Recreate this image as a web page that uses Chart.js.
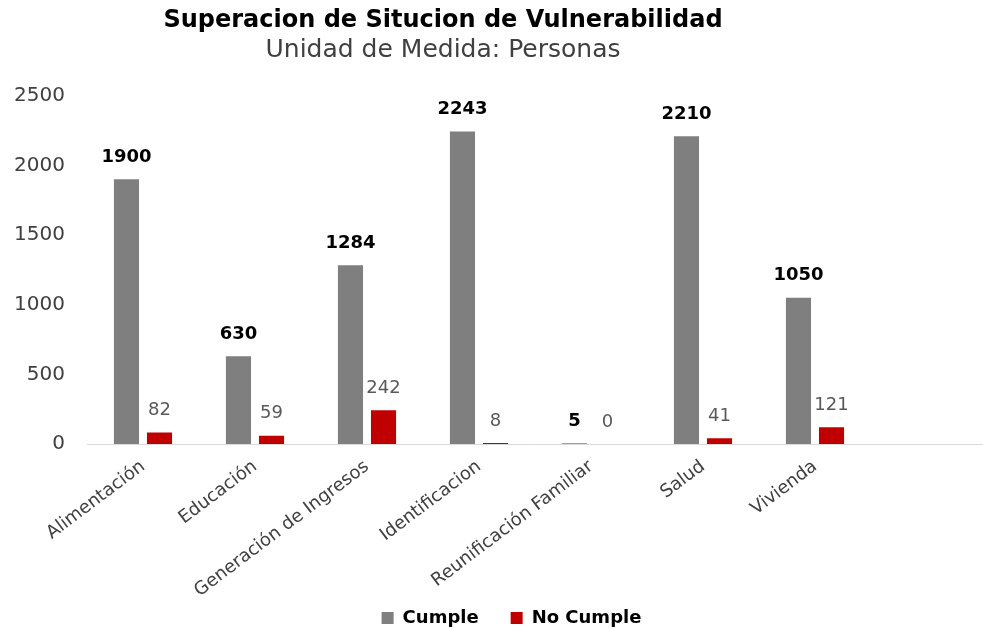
<!DOCTYPE html>
<html>
<head>
<meta charset="utf-8">
<script src="https://cdn.jsdelivr.net/npm/chart.js@4/dist/chart.umd.min.js"></script>
<style>
  html, body { margin: 0; padding: 0; background: #ffffff; }
  #wrap { position: relative; width: 983px; height: 629px; }
</style>
</head>
<body>
<div id="wrap"><canvas id="c" width="983" height="629"></canvas></div>
<script>
const categories = ["Alimentación", "Educación", "Generación de Ingresos", "Identificacion", "Reunificación Familiar", "Salud", "Vivienda", ""];
const cumple = [1900, 630, 1284, 2243, 5, 2210, 1050, null];
const noCumple = [82, 59, 242, 8, 0, 41, 121, null];
const yTicks = [0, 500, 1000, 1500, 2000, 2500];
const titleText = "Superacion de Situcion de Vulnerabilidad";
const subtitleText = "Unidad de Medida: Personas";

const FONT = "'DejaVu Sans', sans-serif";

const shiftPlugin = {
  id: 'shiftBoxes',
  afterLayout(chart) {
    chart.boxes.forEach(b => {
      if (b.options && b.options.text !== undefined && b.position === 'top') {
        b.left = 0; b.right = 886; b.width = 886;
      }
    });
    if (chart.legend) {
      chart.legend.left += 14; chart.legend.right += 14;
      chart.legend.top += 8; chart.legend.bottom += 8;
    }
    if (chart.scales.x) { chart.scales.x.bottom = chart.height; }
  }
};

const labelPlugin = {
  id: 'valueLabels',
  afterDatasetsDraw(chart) {
    const ctx = chart.ctx;
    ctx.save();
    ctx.textAlign = 'center';
    ctx.textBaseline = 'bottom';
    chart.data.datasets.forEach((ds, i) => {
      const meta = chart.getDatasetMeta(i);
      meta.data.forEach((bar, j) => {
        const v = ds.data[j];
        if (v === null || v === undefined) return;
        if (i === 0) {
          ctx.font = "bold 18px " + FONT;
          ctx.fillStyle = '#000000';
        } else {
          ctx.font = "18px " + FONT;
          ctx.fillStyle = '#595959';
        }
        ctx.fillText(String(v), bar.x, bar.y - 13);
      });
    });
    ctx.restore();
  }
};

new Chart(document.getElementById('c'), {
  type: 'bar',
  data: {
    labels: categories,
    datasets: [
      { label: 'Cumple', data: cumple, backgroundColor: '#7f7f7f', categoryPercentage: 0.59, barPercentage: 0.76 },
      { label: 'No Cumple', data: noCumple, backgroundColor: '#c00000', categoryPercentage: 0.59, barPercentage: 0.76 }
    ]
  },
  options: {
    responsive: false,
    animation: false,
    layout: { padding: { left: 12, right: 0, top: 6, bottom: 0 } },
    plugins: {
      title: {
        display: true, text: titleText, color: '#000000',
        font: { family: FONT, size: 24, weight: 'bold' },
        padding: { top: 0, bottom: 1 }
      },
      subtitle: {
        display: true, text: subtitleText, color: '#404040',
        font: { family: FONT, size: 25, weight: 'normal' },
        padding: { top: 0, bottom: 30 }
      },
      legend: {
        position: 'bottom',
        labels: {
          boxWidth: 12, boxHeight: 12, color: '#000000',
          font: { family: FONT, size: 18, weight: 'bold' },
          padding: 32
        }
      },
      tooltip: { enabled: false }
    },
    scales: {
      x: {
        grid: { display: false, drawTicks: false },
        border: { display: true, color: '#d9d9d9', width: 1 },
        ticks: {
          color: '#404040', minRotation: 37, maxRotation: 37, autoSkip: false,
          font: { family: FONT, size: 18 }, padding: 12
        },
        afterFit(scale) {
          scale.height = 125;
          scale.paddingLeft = 0;
          scale.paddingRight = 0;
        }
      },
      y: {
        min: 0, max: 2500,
        afterBuildTicks(axis) { axis.ticks = yTicks.map(v => ({ value: v })); },
        grid: { display: false, drawTicks: false },
        border: { display: false },
        ticks: {
          color: '#404040', padding: 22,
          font: { family: FONT, size: 20 },
          callback: (v) => String(v)
        },
        afterFit(scale) { scale.width = 75; }
      }
    }
  },
  plugins: [shiftPlugin, labelPlugin]
});
</script>
</body>
</html>
